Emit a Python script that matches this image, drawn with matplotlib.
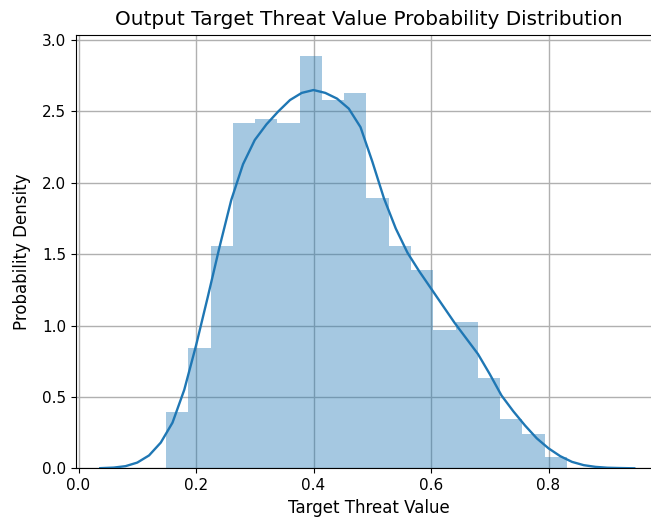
import matplotlib
matplotlib.use("Agg")
import matplotlib.pyplot as plt
import numpy as np

# Histogram (density)
bin_start = 0.149
bin_width = 0.0379
bar_heights = [0.392, 0.845, 1.558, 2.422, 2.446, 2.422, 2.891, 2.581, 2.628,
               1.892, 1.558, 1.391, 0.969, 1.027, 0.631, 0.343, 0.238, 0.077]

# KDE curve points
kde_x = [0.037, 0.060, 0.080, 0.100, 0.120, 0.140, 0.160, 0.180, 0.200, 0.220,
         0.240, 0.260, 0.280, 0.300, 0.320, 0.340, 0.360, 0.380, 0.400, 0.420,
         0.440, 0.460, 0.480, 0.500, 0.520, 0.540, 0.560, 0.580, 0.600, 0.620,
         0.640, 0.660, 0.680, 0.700, 0.720, 0.740, 0.760, 0.780, 0.800, 0.820,
         0.840, 0.860, 0.880, 0.900, 0.920, 0.946]
kde_y = [0.001, 0.005, 0.015, 0.040, 0.090, 0.180, 0.320, 0.550, 0.860, 1.200,
         1.550, 1.880, 2.130, 2.300, 2.410, 2.500, 2.580, 2.630, 2.650, 2.630,
         2.590, 2.520, 2.390, 2.150, 1.890, 1.680, 1.510, 1.380, 1.260, 1.140,
         1.020, 0.910, 0.800, 0.660, 0.510, 0.400, 0.300, 0.210, 0.140, 0.085,
         0.045, 0.022, 0.010, 0.004, 0.002, 0.000]

title = "Output Target Threat Value Probability Distribution"
xlabel = "Target Threat Value"
ylabel = "Probability Density"

W, H = 651, 519
fig = plt.figure(figsize=(W / 100, H / 100), dpi=100)
left_px, right_px, top_px, bottom_px = 76, 661, 35, 468.3
ax = fig.add_axes([left_px / W, 1 - bottom_px / H,
                   (right_px - left_px) / W, (bottom_px - top_px) / H])

edges = bin_start + bin_width * np.arange(len(bar_heights))
ax.bar(edges, bar_heights, width=bin_width, align="edge",
       color="#1f77b4", alpha=0.4, linewidth=0, zorder=1)
ax.plot(kde_x, kde_y, color="#1f77b4", linewidth=1.7, zorder=3,
        solid_joinstyle="round")

ax.set_xlim(-0.0043, 0.9915)
ax.set_ylim(0, 2.891 * 1.05)
ax.set_xticks([0.0, 0.2, 0.4, 0.6, 0.8])
ax.set_yticks([0.0, 0.5, 1.0, 1.5, 2.0, 2.5, 3.0])
ax.grid(True, color="#b0b0b0", linewidth=1.0, zorder=0)
ax.set_axisbelow(True)
ax.spines["right"].set_visible(False)
ax.tick_params(labelsize=11)
ax.set_title(title, fontsize=14.4, pad=7)
ax.set_xlabel(xlabel, fontsize=12)
ax.set_ylabel(ylabel, fontsize=12, labelpad=8)

fig.savefig("out.png", dpi=100)
